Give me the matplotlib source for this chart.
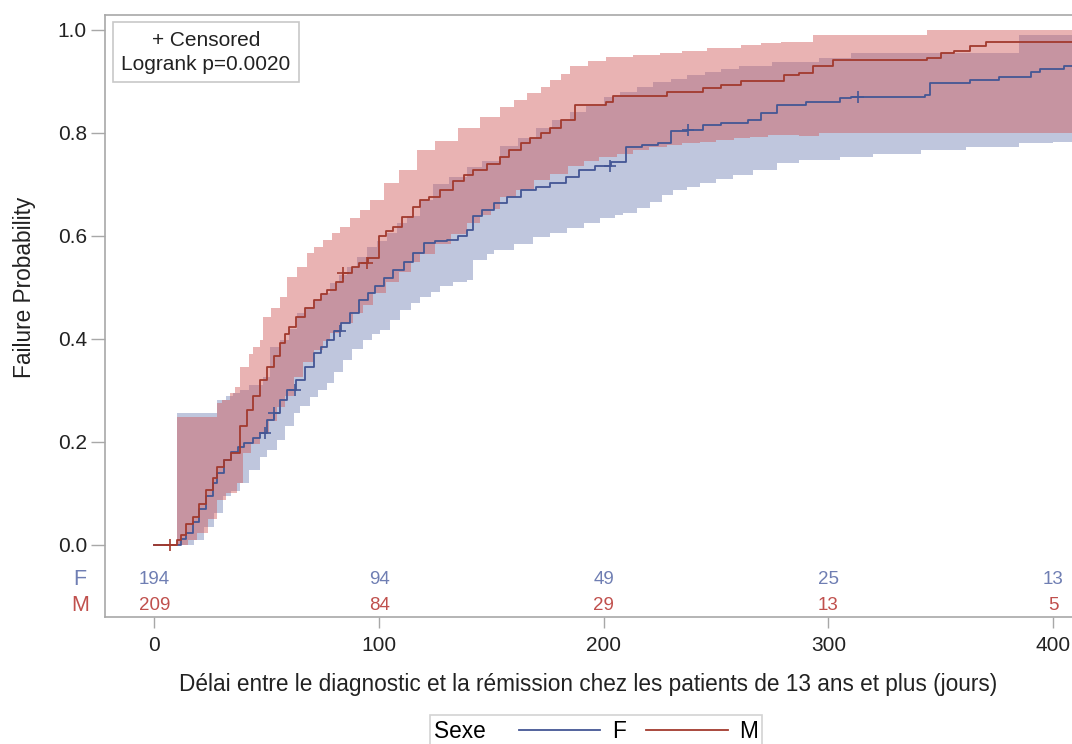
import numpy as np
import matplotlib
matplotlib.use('Agg')
import matplotlib.pyplot as plt
from matplotlib.lines import Line2D
from matplotlib.transforms import blended_transform_factory

plt.rcParams['font.family'] = ['Liberation Sans', 'DejaVu Sans']

# Kaplan-Meier failure curves (time in days, failure probability)
f_time = [0, 12, 14, 17, 20, 23, 26, 28, 31, 34, 37, 40, 44, 47, 50, 53, 56, 59, 63, 67,
          71, 74, 77, 80, 83, 87, 91, 95, 98, 102, 106, 111, 115, 120, 125, 130, 135, 139, 142, 146,
          151, 157, 163, 170, 176, 183, 189, 196, 203, 210, 217, 224, 230, 237, 244, 252, 264, 270, 277, 290,
          305, 310, 343, 345, 363, 376, 390, 394, 405]
f_prob = [0, .012, .023, .045, .07, .095, .12, .14, .165, .18, .19, .197, .207, .217, .243, .256, .282, .30, .32, .345,
          .372, .385, .398, .415, .43, .45, .476, .49, .502, .518, .534, .55, .566, .586, .59, .592, .60, .612, .638, .65,
          .663, .675, .689, .695, .702, .715, .728, .735, .744, .773, .776, .78, .803, .806, .816, .82, .825, .838, .854, .861,
          .867, .870, .874, .896, .903, .909, .919, .925, .929]
f_censor = [49, 53, 62.6, 82.6, 202.8, 237.7, 313.3]

m_time = [0, 10, 12, 14, 17, 20, 23, 26, 28, 31, 34, 38, 41, 44, 47, 50, 53, 56, 58, 60,
          63, 67, 71, 74, 77, 81, 84, 88, 91, 95, 100, 103, 106, 110, 115, 118, 122, 127, 133, 138,
          142, 148, 154, 158, 163, 167, 172, 176, 181, 187, 201, 204, 228, 244, 252, 261, 280, 287, 293, 302,
          344, 350, 356, 363, 370]
m_prob = [0, .01, .02, .04, .055, .08, .107, .13, .152, .165, .178, .23, .262, .29, .32, .345, .366, .392, .41, .424,
          .443, .46, .476, .488, .495, .51, .528, .54, .548, .557, .599, .61, .618, .637, .657, .67, .676, .69, .706, .718,
          .728, .74, .754, .767, .78, .79, .80, .81, .825, .854, .861, .872, .88, .887, .893, .90, .913, .916, .929, .942,
          .945, .955, .96, .968, .976]
m_censor = [7, 84, 94.5]

# confidence bands
f_lo_time = [10, 17.4, 22, 26.3, 30.7, 34, 38.1, 42, 47, 50, 54.5, 58, 61.9, 65, 69.3, 73, 76.7, 80, 84.1, 88,
             93, 97, 100.4, 105, 109.3, 114, 118.2, 123, 127.1, 133, 139, 142, 147.9, 151, 160, 168.7, 176, 183.5, 191, 198.3,
             205, 208.7, 215, 220.6, 226, 231, 237, 242.9, 250, 257.7, 266.6, 277, 287, 296, 305, 320, 341, 361, 385, 400]
f_lo = [0, .01, .035, .062, .094, .105, .12, .145, .171, .185, .204, .23, .256, .27, .288, .30, .314, .335, .359, .38,
        .398, .41, .417, .437, .456, .47, .482, .492, .502, .51, .515, .553, .565, .573, .585, .598, .605, .615, .625, .635,
        .64, .645, .655, .665, .68, .689, .695, .702, .71, .718, .728, .741, .748, .748, .754, .76, .767, .773, .78, .783]
f_hi_time = [10, 28, 32, 35, 38, 42, 48.5, 51.5, 55.9, 60, 63.4, 67, 70.8, 74, 78.2, 82, 85.6, 90, 94.5, 99,
             103.4, 108, 112.3, 118, 124, 131, 139, 146, 154, 162, 170, 177, 185, 192, 200, 207, 215, 222, 230, 237,
             245, 252, 260, 275, 296, 310, 385]
f_hi = [.256, .282, .29, .295, .30, .31, .327, .385, .398, .42, .45, .462, .476, .49, .508, .525, .54, .56, .579, .59,
        .605, .625, .638, .67, .70, .715, .734, .745, .775, .79, .81, .825, .84, .853, .87, .88, .89, .898, .905, .912,
        .918, .924, .93, .937, .945, .955, .99]

m_lo_time = [10, 15, 19, 24, 28, 32, 36.7, 39.6, 43, 47, 51, 54.5, 58, 62, 66, 71, 75, 78, 83, 88.6,
             93, 97.5, 103, 109, 114, 118, 125, 132, 139, 145, 150, 154, 161, 169, 176, 184, 191, 198, 206, 213,
             220, 228, 235, 243, 250, 258, 265, 273, 287, 296]
m_lo = [0, .01, .023, .05, .087, .10, .12, .178, .195, .217, .24, .268, .29, .327, .355, .379, .395, .411, .43, .45,
        .465, .49, .51, .53, .55, .565, .585, .603, .625, .64, .652, .676, .69, .709, .72, .735, .745, .754, .76, .767,
        .772, .777, .78, .783, .786, .79, .792, .796, .795, .799]
m_hi_time = [10, 27.8, 30, 33.7, 36, 38, 42, 44, 47, 48.5, 52, 55.9, 58.9, 63.4, 67.8, 71, 75.2, 79, 82.6, 87,
             91.5, 96, 102, 109, 117, 125, 135, 145, 154, 160, 166, 172, 176, 181, 185, 193, 201, 213, 225, 235,
             246, 261, 270, 279, 293, 344]
m_hi = [.249, .275, .282, .295, .307, .346, .37, .385, .398, .443, .46, .482, .521, .54, .566, .578, .592, .605, .618, .635,
        .65, .67, .702, .728, .767, .785, .81, .83, .851, .864, .877, .89, .903, .915, .929, .94, .948, .952, .955, .96,
        .964, .971, .974, .977, .99, 1.0]

# number at risk
risk_times = [0, 100, 200, 300, 400]
f_risk = [194, 94, 49, 25, 13]
m_risk = [209, 84, 29, 13, 5]

F_LINE, M_LINE = '#445694', '#A23A2E'
F_FILL, M_FILL = '#6F7EB3', '#D05B5B'
F_TXT, M_TXT = '#6F7EB3', '#C0504D'
GRAY = '#A8A8A8'
X_END = 410


def step_val(t, p, x):
    i = np.searchsorted(np.asarray(t), x, side='right') - 1
    return np.asarray(p)[np.clip(i, 0, None)]


def draw_band(ax, lo_t, lo_p, hi_t, hi_p, color, alpha):
    start = max(lo_t[0], hi_t[0])
    grid = np.union1d(lo_t, hi_t)
    grid = np.append(grid[grid >= start], X_END)
    ax.fill_between(grid, step_val(lo_t, lo_p, grid), step_val(hi_t, hi_p, grid),
                    step='post', color=color, alpha=alpha, lw=0)


def draw_curve(ax, t, p, cens, color):
    ax.step(np.append(t, X_END), np.append(p, p[-1]), where='post', color=color, lw=1.3)
    ax.plot(cens, step_val(t, p, cens), ls='none', marker='+', ms=9, mew=1.2, color=color)


fig = plt.figure(figsize=(10.72, 7.44), dpi=100)
ax = fig.add_axes([105 / 1072, 1 - 617 / 744, 1 - 105 / 1072, (617 - 15) / 744])

draw_band(ax, f_lo_time, f_lo, f_hi_time, f_hi, F_FILL, 0.44)
draw_band(ax, m_lo_time, m_lo, m_hi_time, m_hi, M_FILL, 0.46)
draw_curve(ax, f_time, f_prob, f_censor, F_LINE)
draw_curve(ax, m_time, m_prob, m_censor, M_LINE)

ax.set_xlim(-22, 408.4)
ax.set_ylim(-0.14, 1.029)
ax.set_xticks(risk_times)
ax.set_yticks(np.arange(0, 1.01, 0.2))
ax.set_yticklabels(['%.1f' % v for v in np.arange(0, 1.01, 0.2)])
ax.tick_params(direction='out', width=1, color=GRAY, labelsize=15, labelcolor='#222222')
ax.tick_params(axis='x', length=8, pad=6)
ax.tick_params(axis='y', length=10, pad=3)
for side in ['top', 'left', 'bottom']:
    ax.spines[side].set_color(GRAY)
    ax.spines[side].set_linewidth(1.2)
ax.spines['right'].set_visible(False)

ax.set_xlabel('Délai entre le diagnostic et la rémission chez les patients de 13 ans et plus (jours)',
              fontsize=16.3, labelpad=13, color='#222222')
ax.set_ylabel('Failure Probability', fontsize=16.3, color='#222222')
# label centred on the 0..1 probability range, as in the original
ax.yaxis.set_label_coords(-0.0715, (0.5 + 0.14) / 1.169)

# at-risk table inside the axes
for t, nf, nm in zip(risk_times, f_risk, m_risk):
    ax.text(t, -0.068, str(nf), ha='center', va='center', fontsize=13.5, color=F_TXT)
    ax.text(t, -0.117, str(nm), ha='center', va='center', fontsize=13.5, color=M_TXT)
tr = blended_transform_factory(ax.transAxes, ax.transData)
ax.text(-0.026, -0.068, 'F', transform=tr, ha='center', va='center', fontsize=15.5, color=F_TXT)
ax.text(-0.026, -0.117, 'M', transform=tr, ha='center', va='center', fontsize=15.5, color=M_TXT)

ax.text(0.1044, 0.974, '+ Censored\nLogrank p=0.0020', transform=ax.transAxes, ha='center', va='top',
        fontsize=15, linespacing=1.35, color='#222222',
        bbox=dict(boxstyle='square,pad=0.4', fc='white', ec='#C8C8C8', lw=1.2))

handles = [Line2D([], [], color=F_LINE, lw=1.3), Line2D([], [], color=M_LINE, lw=1.3)]
leg = fig.legend(handles, ['F', 'M'], title='Sexe  ', ncol=2, loc='upper center',
                 bbox_to_anchor=(596 / 1072, 1 - 715 / 744), borderaxespad=0,
                 fontsize=16.3, title_fontsize=16.3,
                 handlelength=3.6, handletextpad=0.5, columnspacing=0.9, fancybox=False,
                 edgecolor='#C8C8C8', borderpad=0.2)
leg.get_frame().set_linewidth(1.2)
# put the legend title on the left of the entries
vbox = leg._legend_box
title_box, entries_box = vbox.get_children()
vbox._children = [entries_box]
entries_box._children = [title_box] + entries_box.get_children()

fig.savefig('out.png', dpi=100)
